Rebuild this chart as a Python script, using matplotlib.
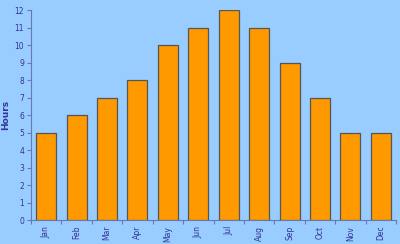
import matplotlib.pyplot as plt
import numpy as np

months = ["Jan", "Feb", "Mar", "Apr", "May", "Jun", "Jul", "Aug", "Sep", "Oct", "Nov", "Dec"]
hours = [5, 6, 7, 8, 10, 11, 12, 11, 9, 7, 5, 5]

bg = "#99ccff"
txt = "#333399"
axc = "#6677bb"

fig = plt.figure(figsize=(4, 2.44), dpi=100, facecolor=bg)
ax = fig.add_axes([0.0775, 0.098, 0.9125, 0.861])
ax.set_facecolor(bg)

x = np.arange(len(months))
ax.bar(x, hours, width=0.66, color="#ff9900", edgecolor="#555555", linewidth=0.9, zorder=3)

ax.set_xlim(-0.5, len(months) - 0.5)
ax.set_ylim(0, 12)
ax.set_yticks(range(0, 13))
ax.set_xticks(x)
ax.set_xticklabels(months, rotation=90)
ax.set_xticks(np.arange(-0.5, len(months)), minor=True)

for s in ["top", "right"]:
    ax.spines[s].set_visible(False)
for s in ["left", "bottom"]:
    ax.spines[s].set_color(axc)
    ax.spines[s].set_linewidth(0.8)

ax.tick_params(axis="x", which="major", length=0, pad=4, labelsize=5.5, labelcolor=txt)
ax.tick_params(axis="x", which="minor", length=3, color=axc, width=0.8)
ax.tick_params(axis="y", length=3, color=axc, width=0.8, labelsize=5.5, labelcolor=txt, pad=2)

ax.set_ylabel("Hours", fontsize=6.5, fontweight="bold", color=txt)
ax.yaxis.set_label_coords(-0.058, 0.5)

fig.savefig("out.png", dpi=100, facecolor=bg)
